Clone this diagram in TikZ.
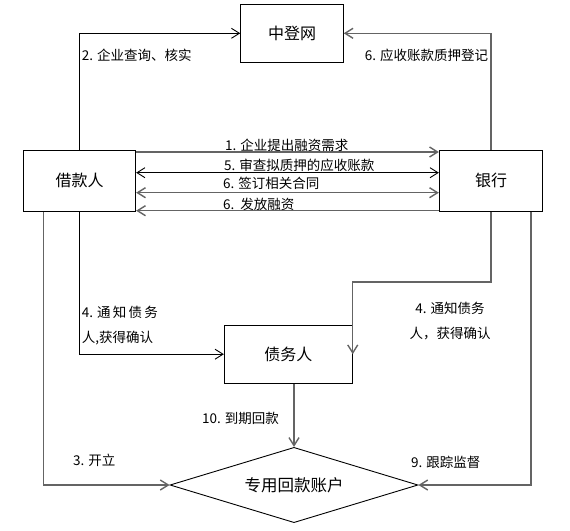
\documentclass[tikz,border=0pt]{standalone}
\usepackage{fontspec}
\newfontfamily\cjk{Noto Sans CJK SC}
\usetikzlibrary{arrows.meta,shapes.geometric}
\definecolor{lineGray}{RGB}{100,100,100}

\begin{document}
\begin{tikzpicture}[x=1pt, y=-1pt, >={Straight Barb[length=8pt,width=10pt]},
	box/.style={draw, line width=0.9pt, inner sep=0pt, font=\cjk\fontsize{16}{16}\selectfont},
	lbl/.style={inner sep=0pt, font=\cjk\fontsize{13.5}{24.6}\selectfont},
	blk/.style={line width=0.9pt, black},
	gry/.style={line width=1.4pt, lineGray}]

\useasboundingbox (0,0) rectangle (570,530);

\node[box, minimum width=102.6pt, minimum height=58pt] (zdw) at (292,33.3) {中登网};
\node[box, minimum width=112.4pt, minimum height=61pt] (borrower) at (79.5,180.8) {借款人};
\node[box, minimum width=103.4pt, minimum height=61pt] (bank) at (491,180.8) {银行};
\node[box, minimum width=128pt, minimum height=58.3pt] (debtor) at (288.3,354.2) {债务人};
\node[box, diamond, aspect=3.3, minimum width=248pt, minimum height=75.3pt, font=\cjk\fontsize{16.5}{16.5}\selectfont] (account) at (294,485) {专用回款账户};

% up to 中登网
\draw[blk,->] (borrower.north) |- (zdw.west);
\draw[gry,->] (bank.north) |- (zdw.east);
\node[lbl, anchor=west] (l2) at (81.7,55) {2. 企业查询、核实};
\node[lbl, anchor=east] (l6a) at (488.3,55) {6. 应收账款质押登记};

% between borrower and bank
\draw[gry,->] (borrower.east |- 0,152) -- (bank.west |- 0,152);
\draw[blk,<->] (borrower.east |- 0,172.7) -- (bank.west |- 0,172.7);
\draw[gry,<->] (borrower.east |- 0,192.7) -- (bank.west |- 0,192.7);
\draw[gry,<-] (borrower.east |- 0,210.7) -- (bank.west |- 0,210.7);
\node[lbl, anchor=west] (l1) at (225,145) {1. 企业提出融资需求};
\node[lbl, anchor=west] (l5) at (224,165) {5. 审查拟质押的应收账款};
\node[lbl, anchor=west] (l6b) at (223,183) {6. 签订相关合同};
\node[lbl, anchor=west] (l6c) at (223,204) {6.~~发放融资};

% to the debtor
\draw[blk,->] (borrower.south) |- (debtor.west);
\draw[gry,->] (bank.south) -- ++(0,70.4) -| (debtor.east);
\node[lbl, anchor=west, align=left] (l4a) at (81.7,325.5) {4. 通\,知\,债\,务\\人,获得确认};
\node[lbl, align=center] (l4b) at (450,320.8) {4. 通知债务\\人，获得确认};

% to the account
\draw[gry,->] ([xshift=-36.2pt]borrower.south) |- (account.west);
\draw[gry,->] ([xshift=40pt]bank.south) |- (account.east);
\draw[gry,->] (account.north |- debtor.south) -- (account.north);
\node[lbl, anchor=east] (l10) at (279,418) {10. 到期回款};
\node[lbl, anchor=west] (l3) at (73,460) {3. 开立};
\node[lbl, anchor=west] (l9) at (411,462) {9. 跟踪监督};

\end{tikzpicture}
\end{document}
